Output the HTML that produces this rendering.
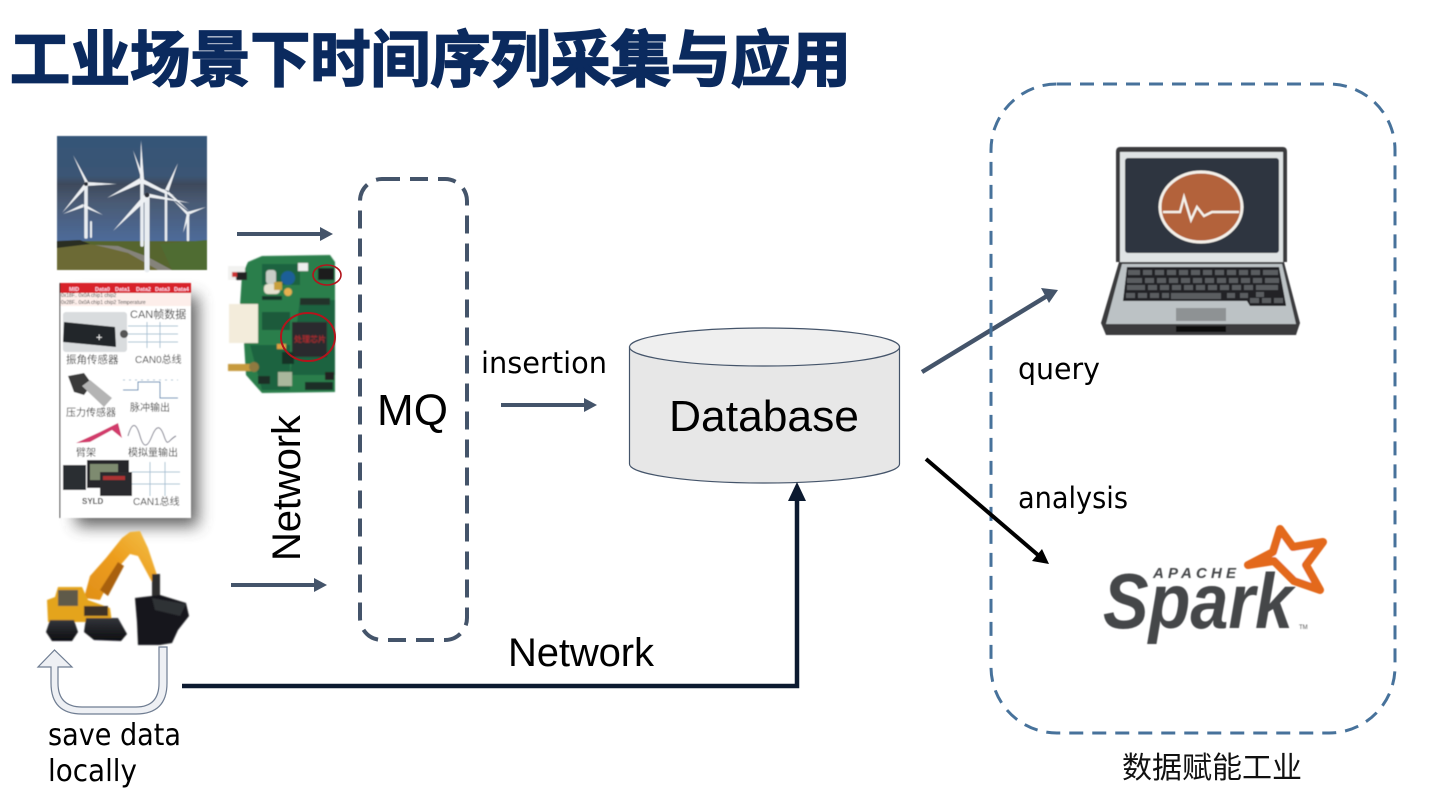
<!DOCTYPE html>
<html><head><meta charset="utf-8"><style>
html,body{margin:0;padding:0;background:#fff;width:1440px;height:810px;overflow:hidden}
svg{display:block}
text{font-family:"Liberation Sans","Noto Sans CJK SC",sans-serif}
.s{font-family:"DejaVu Sans","Liberation Sans",sans-serif}
</style></head><body>
<svg width="1440" height="810" viewBox="0 0 1440 810" xmlns="http://www.w3.org/2000/svg">
<defs>
<linearGradient id="sky" x1="0" y1="0" x2="0" y2="1"><stop offset="0" stop-color="#355578"/><stop offset=".3" stop-color="#3b5574"/><stop offset=".36" stop-color="#3e4a5c"/><stop offset=".5" stop-color="#4a5b75"/><stop offset=".8" stop-color="#4e6c9c"/><stop offset="1" stop-color="#5673a4"/></linearGradient>
<linearGradient id="track" x1="0" y1="0" x2="0" y2="1"><stop offset="0" stop-color="#33353a"/><stop offset="1" stop-color="#0c0d10"/></linearGradient>
<linearGradient id="boom" x1="0" y1="1" x2="1" y2="0"><stop offset="0" stop-color="#e08f18"/><stop offset=".5" stop-color="#ec9c1c"/><stop offset="1" stop-color="#f3c14a"/></linearGradient>
<filter id="b1" x="-5%" y="-5%" width="110%" height="110%"><feGaussianBlur stdDeviation=".8"/></filter>
<filter id="b2" x="-5%" y="-5%" width="110%" height="110%"><feGaussianBlur stdDeviation=".45"/></filter>
<filter id="sh" x="-30%" y="-20%" width="160%" height="140%"><feGaussianBlur stdDeviation="8"/></filter>
</defs>

<!-- title -->
<text x="10" y="81" font-size="61" font-weight="700" fill="#0b2a5e" stroke="#0b2a5e" stroke-width="1.800" textLength="841" lengthAdjust="spacingAndGlyphs">工业场景下时间序列采集与应用</text>

<!-- wind image -->
<g filter="url(#b2)">
<rect x="57" y="136" width="150" height="134" fill="url(#sky)"/>
<rect x="57" y="241" width="150" height="29" fill="#56652f"/>
<path d="M57 242L110 246 130 250 165 270H57Z" fill="#6c6b35"/>
<path d="M95 245L118 246 146 256 172 270H158L128 253 108 248Z" fill="#85837a"/>
<path d="M160 244L207 240V270H172Z" fill="#506c33"/>
<path d="M57 241L80 240 90 244 57 248Z" fill="#2c2e22"/>
<g stroke="#e9edf1" fill="none" stroke-linecap="round">
<path d="M86 183V237" stroke-width="3.500"/>
<path d="M91 222V237" stroke-width="2"/>
<path d="M142 180V245" stroke-width="3.500"/>
<path d="M166 192V240" stroke-width="2.500"/>
<path d="M188 213V240" stroke-width="2.500"/>
<path d="M147 195V270" stroke-width="5"/>
</g>
<g fill="#eef1f4">
<path d="M85 182L73 155 88 182ZM86 182L117 184 86 186ZM85 183L62 213 88 186ZM83 204L63 214 84 207ZM84 204L103 215 83 207Z"/>
<path d="M140 180L141 140 144 180ZM140 178L107 198 142 183ZM141 178L175 196 141 183ZM141 178L133 150 144 178Z"/>
<path d="M165 190L178 163 168 193ZM165 192L190 212 167 190ZM166 190L148 186 166 194Z"/>
<path d="M187 212L206 207 188 215ZM187 213L183 233 190 214ZM188 212L173 200 187 215Z"/>
<path d="M145 194L113 231 149 198ZM146 193L190 203 146 197Z"/>
</g>
<circle cx="147" cy="195" r="2.500" fill="#2b2f38"/><circle cx="86" cy="184" r="2" fill="#2b2f38"/>
</g>

<!-- sensor panel -->
<rect x="76" y="296" width="122" height="230" fill="#444" opacity=".85" filter="url(#sh)"/>
<g filter="url(#b2)">
<rect x="60" y="283" width="131" height="235" fill="#fff"/>
<rect x="60" y="283" width="131" height="10" fill="#d8232a"/>
<rect x="60" y="293" width="131" height="13" fill="#fdeeea"/>
<path d="M60 283V518" stroke="#222" stroke-width="1"/>
<g font-size="5.500" font-weight="700" fill="#fde">
<text x="69" y="291">MID</text><text x="95" y="291">Data0</text><text x="115" y="291">Data1</text><text x="136" y="291">Data2</text><text x="155" y="291">Data3</text><text x="174" y="291">Data4</text>
</g>
<g font-size="5" fill="#444"><text x="61" y="297">0x18F..  0x0A  chip1  chip2</text><text x="61" y="304">0x28F..  0x0A  chip1  chip2   Temperature</text></g>
<rect x="63" y="312" width="64" height="40" rx="3" fill="#d9dcde"/>
<path d="M64 322L115 327 116 347 63 342Z" fill="#23262b"/>
<text x="96" y="341" font-size="11" fill="#fff">+</text>
<circle cx="124" cy="334" r="4" fill="#555"/>
<g font-size="11" fill="#444">
<text x="130" y="318">CAN帧数据</text><text x="66" y="363" font-size="10.500">振角传感器</text><text x="135" y="363" font-size="10">CAN0总线</text>
<text x="66" y="416" font-size="10">压力传感器</text><text x="130" y="411" font-size="10">脉冲输出</text><text x="76" y="456" font-size="10">臂架</text><text x="128" y="456" font-size="10">模拟量输出</text>
<text x="82" y="504" font-size="8" font-weight="700">SYLD</text><text x="133" y="505" font-size="10">CAN1总线</text>
</g>
<g stroke="#a8c2d4" stroke-width="1" fill="none">
<path d="M128 334H178M147 322V348M160 322V348M128 326H178M128 342H178"/>
<path d="M123 390H138V382H160V398H178" stroke="#4d88b4"/><path d="M123 380H178" stroke-dasharray="2 4"/>
<path d="M128 436c4-14 8-14 12 0s8 10 12 0 8-12 12 0 4 4 12 0" stroke="#778"/>
<path d="M132 472H180M150 462V496M165 462V496M132 484H180"/>
</g>
<path d="M68 376L84 373 92 384 84 395 74 392Z" fill="#3a3a3a"/><path d="M82 386L90 380 112 398 104 407Z" fill="#b4b4b4"/>
<path d="M76 443L100 432 118 423 122 438 112 430 90 442Z" fill="#d23a6c"/>
<rect x="63" y="465" width="23" height="25" fill="#2c2d31"/><rect x="87" y="460" width="42" height="28" fill="#26282c"/><rect x="90" y="464" width="28" height="16" fill="#7e8b70"/><rect x="100" y="472" width="32" height="24" fill="#2b2b2e"/><rect x="103" y="476" width="22" height="4" fill="#a33"/>
</g>

<!-- PCB -->
<g filter="url(#b1)">
<path d="M248 262L262 256 330 255 335 262 335 392 262 393 246 375 244 342 240 305 242 275Z" fill="#2b7e4b"/>
<path d="M262 264H300V285H262ZM300 300H335V375H290ZM250 345H290V390H262Z" fill="#1f6340"/>
<rect x="228" y="266" width="17" height="14" fill="#f2f2f0"/><rect x="236" y="272" width="11" height="8" fill="#222"/><rect x="232" y="272" width="5" height="5" fill="#c33"/>
<rect x="229" y="304" width="29" height="39" fill="#f3ecdb"/>
<rect x="266" y="270" width="10" height="14" rx="3" fill="#c8cdc6"/><rect x="264" y="284" width="16" height="10" rx="4" fill="#e6e2d0"/><rect x="274" y="282" width="8" height="8" fill="#c8a03a"/>
<circle cx="288" cy="278" r="7" fill="#1e5f98"/><circle cx="288" cy="292" r="4" fill="#e6b050"/>
<rect x="298" y="263" width="10" height="8" fill="#eee"/><rect x="318" y="268" width="16" height="12" fill="#1d1d1f"/>
<rect x="300" y="298" width="30" height="7" fill="#22332b"/><rect x="262" y="296" width="20" height="4" fill="#15352a"/>
<rect x="292" y="322" width="35" height="35" fill="#2a2c2e"/><text x="294" y="342" font-size="8" fill="#c92a2a">处理芯片</text>
<rect x="228" y="364" width="24" height="7" fill="#c69a3e"/><circle cx="254" cy="367" r="5" fill="#8f7a40"/>
<rect x="277" y="344" width="9" height="5" fill="#e0a040"/>
<rect x="305" y="382" width="28" height="8" fill="#1a2d26"/>
<rect x="278" y="372" width="14" height="14" fill="#a9b79d"/><rect x="258" y="376" width="12" height="8" fill="#1b2e25"/>
<rect x="262" y="312" width="28" height="18" fill="#1f5a3a"/><rect x="282" y="352" width="12" height="12" fill="#183026"/>
<rect x="325" y="372" width="9" height="8" fill="#222"/>
</g>
<ellipse cx="308" cy="337" rx="27" ry="24" fill="none" stroke="#b3141c" stroke-width="2"/>
<ellipse cx="327" cy="275" rx="14" ry="10" fill="none" stroke="#b3141c" stroke-width="1.600"/>

<!-- excavator -->
<g filter="url(#b1)">
<path d="M84 598L90 576 106 558 122 538 130 532 140 531 148 548 158 578 152 582 138 556 130 554 118 568 108 584 100 600Z" fill="url(#boom)"/>
<path d="M100 590L118 562 124 566 108 596Z" fill="#a9600f"/>
<rect x="152" y="574" width="8" height="26" fill="#2f2f2f"/>
<path d="M47 600L55 597 58 587H82L88 600 110 608 112 622H48Z" fill="#e4a41f"/>
<rect x="58" y="590" width="20" height="16" fill="#5e5a48"/>
<path d="M84 606H108V616H84Z" fill="#3c3326"/>
<path d="M50 620H74L78 632 72 641H52L46 632Z" fill="url(#track)"/>
<path d="M86 618H118L127 634 121 641 94 640 84 632Z" fill="url(#track)"/>
<path d="M135 598L160 595 186 603 189 616 178 630 172 643 160 645 138 645 137 622Z" fill="#17181b"/>
<path d="M152 598L186 604 180 616 155 610Z" fill="#2f3034"/>
</g>

<!-- U-turn arrow -->
<path d="M167 647V683Q167 714 136 714H82Q51 714 51 683V667H38L54.500 650 72 667H58V683Q58 707 82 707H136Q159 707 159 683V647Z" fill="#eef0f4" stroke="#6f7d92" stroke-width="1.200"/>

<!-- arrows -->
<g stroke="#44546a" stroke-width="4" fill="#44546a">
<path d="M237 234H322" fill="none"/><path d="M320 227L333 234 320 241Z" stroke="none"/>
<path d="M231 585H316" fill="none"/><path d="M314 578L327 585 314 592Z" stroke="none"/>
<path d="M501 405H586" fill="none"/><path d="M584 398L597 405 584 412Z" stroke="none"/>
<path d="M922 372L1047 296" fill="none" stroke-width="4.500"/><path d="M1041 288L1058 290 1049 303Z" stroke="none"/>
</g>

<!-- MQ -->
<rect x="360" y="179" width="107" height="461" rx="22" fill="none" stroke="#44546a" stroke-width="4" stroke-dasharray="18 10"/>
<text x="377" y="425" font-size="44" fill="#000" textLength="71">MQ</text>
<text transform="translate(300 561) rotate(-90)" font-size="40" fill="#000" textLength="146">Network</text>

<!-- cylinder -->
<path d="M629.500 347V464A135 19 0 0 0 899.500 464V347Z" fill="#e7e7e7" stroke="#44546a" stroke-width="1.200"/>
<ellipse cx="764.500" cy="347" rx="135" ry="19" fill="#efefef" stroke="#44546a" stroke-width="1.200"/>
<text x="669" y="431" font-size="44" fill="#000" textLength="190" lengthAdjust="spacingAndGlyphs">Database</text>
<text class="s" x="481" y="373" font-size="29" fill="#000" textLength="126" lengthAdjust="spacingAndGlyphs">insertion</text>

<!-- network line -->
<path d="M182 686H797V495" fill="none" stroke="#0c1a30" stroke-width="4.500"/>
<path d="M788 501L797 482 806 501Z" fill="#0c1a30"/>
<text x="508" y="666" font-size="40" fill="#000" textLength="146">Network</text>

<text class="s" x="48" y="745" font-size="30" fill="#000" textLength="133" lengthAdjust="spacingAndGlyphs">save data</text>
<text class="s" x="48" y="781" font-size="30" fill="#000" textLength="89" lengthAdjust="spacingAndGlyphs">locally</text>

<!-- right box -->
<rect x="991" y="84" width="404" height="649" rx="66" fill="none" stroke="#47729b" stroke-width="3" stroke-dasharray="14 9"/>
<text x="1122" y="778" font-size="30" fill="#111" textLength="180">数据赋能工业</text>
<text class="s" x="1018" y="379" font-size="29" fill="#000" textLength="82" lengthAdjust="spacingAndGlyphs">query</text>
<text class="s" x="1018" y="508" font-size="29" fill="#000" textLength="110" lengthAdjust="spacingAndGlyphs">analysis</text>

<!-- black arrow -->
<path d="M926 459L1038 555" stroke="#000" stroke-width="4" fill="none"/>
<path d="M1032 561L1049 564 1042 549Z" fill="#000"/>

<!-- laptop -->
<g filter="url(#b2)">
<path d="M1120 147H1283Q1287 147 1287 152V262H1116V152Q1116 147 1120 147Z" fill="#3a3b3d"/>
<rect x="1120" y="152" width="163" height="110" fill="#dfe3e4"/>
<rect x="1125" y="158" width="154" height="95" rx="3" fill="#2f3440"/>
<path d="M1119 262H1284L1300 323 1296 335H1106L1101 323Z" fill="#3a3b3d"/>
<path d="M1122 264H1282L1296 324H1106Z" fill="#bcc2c5"/>
<path d="M1127 267H1279L1286 305 1286 306H1250L1247 301H1123Z" fill="#202225"/>
<g fill="#5a5d60">
<path d="M1128 270h12v5h-12zM1143 270h9v5h-9zM1155 270h9v5h-9zM1167 270h9v5h-9zM1179 270h9v5h-9zM1191 270h9v5h-9zM1203 270h9v5h-9zM1215 270h9v5h-9zM1227 270h9v5h-9zM1239 270h9v5h-9zM1251 270h9v5h-9zM1263 270h15v5h-15z"/>
<path d="M1127 278h15v5h-15zM1145 278h9v5h-9zM1157 278h9v5h-9zM1169 278h9v5h-9zM1181 278h9v5h-9zM1193 278h9v5h-9zM1205 278h9v5h-9zM1217 278h9v5h-9zM1229 278h9v5h-9zM1241 278h9v5h-9zM1253 278h9v5h-9zM1265 278h14v5h-14z"/>
<path d="M1127 285h18v5h-18zM1148 285h9v5h-9zM1160 285h9v5h-9zM1172 285h9v5h-9zM1184 285h9v5h-9zM1196 285h9v5h-9zM1208 285h9v5h-9zM1220 285h9v5h-9zM1232 285h9v5h-9zM1244 285h9v5h-9zM1256 285h22v5h-22z"/>
<path d="M1126 293h9v5h-9zM1138 293h9v5h-9zM1150 293h9v5h-9zM1162 293h7v5h-7zM1171 293h50v6h-50zM1227 293h8v5h-8zM1240 293h8v5h-8zM1256 292h8v5h-8zM1250 298h9v5h-9zM1262 298h9v5h-9zM1274 298h9v5h-9z"/>
</g>
<rect x="1176" y="308" width="50" height="13" fill="#8e9294"/>
<rect x="1176" y="326" width="50" height="6" fill="#111"/>
<ellipse cx="1201" cy="207" rx="41" ry="35" fill="#b3623a" stroke="#f4f1ea" stroke-width="3"/>
<path d="M1163 212H1180L1184 197 1191 220 1197 207 1204 216 1212 212H1239" fill="none" stroke="#f4f1ea" stroke-width="2.400"/>
</g>

<!-- spark -->
<g filter="url(#b2)">
<path d="M1280 529L1293 547 1323 542 1306 565 1320 590 1294 581 1274 561 1248 565 1273 552Z" fill="#fff" stroke="#e3691c" stroke-width="8" stroke-linejoin="round"/>
<text x="1103" y="628" font-size="78" font-weight="700" font-style="italic" fill="#454649" textLength="190" lengthAdjust="spacingAndGlyphs">Spark</text>
<text x="1153" y="578" font-size="15" font-weight="700" font-style="italic" fill="#454649" textLength="83">APACHE</text>
<text x="1299" y="629" font-size="6" fill="#555">TM</text>
</g>
</svg>
</body></html>
